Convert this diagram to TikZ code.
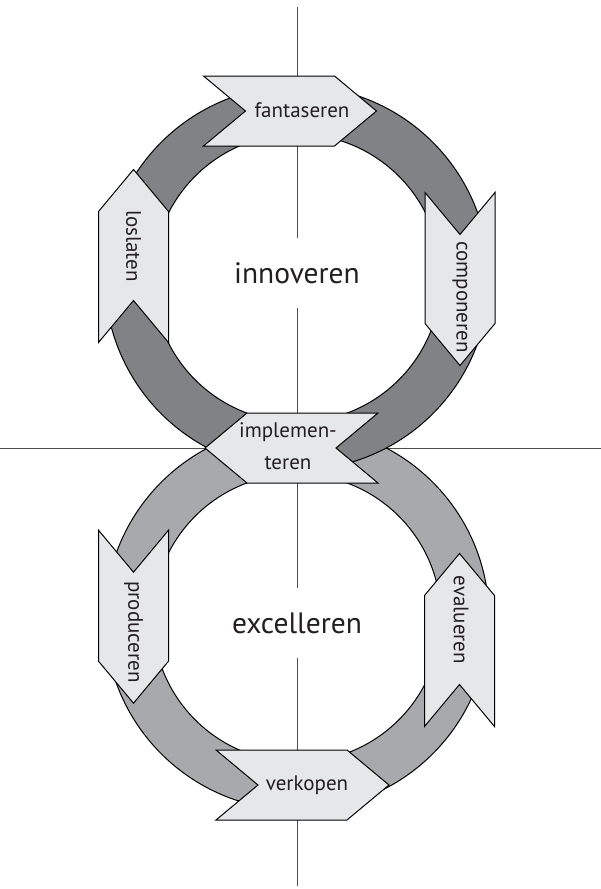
\documentclass[tikz,border=0pt]{standalone}
\usepackage{fontspec}
\setmainfont{PT Sans}
\usetikzlibrary{positioning}
\usetikzlibrary{calc}

\definecolor{darkband}{HTML}{808285}
\definecolor{lightband}{HTML}{A7A9AC}
\definecolor{arrowfill}{HTML}{E6E7E8}
\definecolor{axisgray}{HTML}{4D4D4F}
\definecolor{inktext}{HTML}{231F20}

\begin{document}
\begin{tikzpicture}[x=1pt,y=1pt,
% Ring and arrow style
    band/.style={draw=black,line width=1pt,even odd rule},
    chevron/.style={draw=black,line width=1pt,fill=arrowfill,line join=miter},
    axis/.style={draw=axisgray,line width=1pt},
% Label style
    tag/.style={font=\fontsize{21}{31.5}\selectfont,inner sep=0pt,text=inktext},
    centre/.style={font=\fontsize{29.5}{35}\selectfont,inner sep=0pt,
		minimum height=70pt,text=inktext},
% Arrow shape, pointing east
    pics/chev/.style={code={
      \draw[chevron] (-86.5,35) -- (44.5,35) -- (86.5,0) -- (44.5,-35)
        -- (-86.5,-35) -- (-44.5,0) -- cycle;
    }}
    ]
  \useasboundingbox (0,0) rectangle (601,-889);

  % axes
  \coordinate (ytop) at (297,-7);
  \coordinate (ybot) at (297,-886);
  \coordinate (xl) at (0,-448);
  \coordinate (xr) at (601,-448);
  \node (inno) [centre] at (297,-273) {innoveren};
  \node (exce) [centre] at (297,-623) {excelleren};
  \draw[axis] (ytop) -- (inno.north);
  \draw[axis] (inno.south) -- (exce.north);
  \draw[axis] (exce.south) -- (ybot);
  \draw[axis] (xl) -- (xr);

  % the two rings, upper one on top
  \coordinate (topc) at (297,-278);
  \coordinate (botc) at (297,-618);
  \path[band,fill=lightband] (botc) circle[radius=192] (botc) circle[radius=144];
  \path[band,fill=darkband] (topc) circle[radius=192] (topc) circle[radius=144];

  % arrows on the rings
  \pic at (290,-111) {chev};
  \pic[rotate=-90] at (460,-279) {chev};
  \pic[rotate=180] at (291.5,-448) {chev};
  \pic[rotate=90] at (133.5,-256) {chev};
  \pic[rotate=-90] at (133.5,-616.7) {chev};
  \pic[rotate=90] at (459.5,-640) {chev};
  \pic at (302.5,-785) {chev};

  \node (fant) [tag] at (302,-110) {fantaseren};
  \node (comp) [tag,rotate=-90] at (460,-297) {componeren};
  \node (impl) [tag,align=center] at (288,-446) {implemen-\\teren};
  \node (losl) [tag,rotate=-90] at (133.5,-246) {loslaten};
  \node (prod) [tag,rotate=-90] at (133.5,-632) {produceren};
  \node (eval) [tag,rotate=-90] at (461,-620) {evalueren};
  \node (verk) [tag] at (307,-785) {verkopen};
\end{tikzpicture}
\end{document}
